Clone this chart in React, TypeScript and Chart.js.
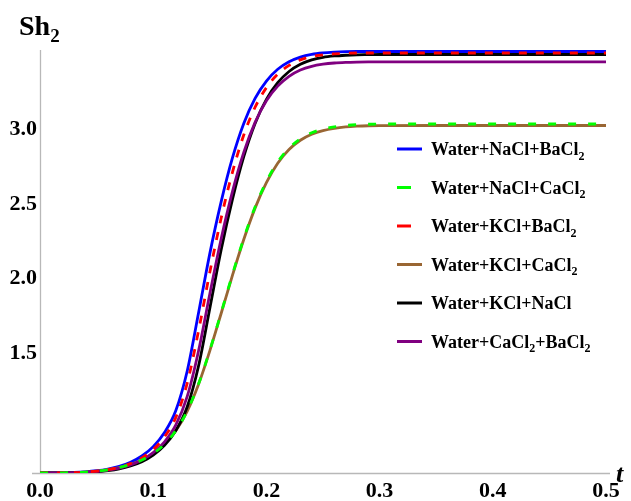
import React, { useEffect, useRef } from 'react';
import { Chart, registerables } from 'chart.js';

Chart.register(...registerables);

const tValues = [0, 0.01, 0.02, 0.03, 0.04, 0.05, 0.06, 0.07, 0.08, 0.09, 0.10, 0.11, 0.12, 0.13, 0.14, 0.15, 0.16, 0.17, 0.18, 0.19, 0.20, 0.21, 0.22, 0.23, 0.24, 0.25, 0.26, 0.27, 0.28, 0.29, 0.30, 0.35, 0.40, 0.45, 0.50];

const seriesLabels = [
  'Water+NaCl+BaCl₂',
  'Water+NaCl+CaCl₂',
  'Water+KCl+BaCl₂',
  'Water+KCl+CaCl₂',
  'Water+KCl+NaCl',
  'Water+CaCl₂+BaCl₂',
];

const naclBacl2 = [0.70, 0.7003, 0.7014, 0.7035, 0.7077, 0.715, 0.7266, 0.7444, 0.7717, 0.8137, 0.8766, 0.9711, 1.118, 1.3805, 1.7688, 2.1677, 2.514, 2.8079, 3.0388, 3.2067, 3.3222, 3.401, 3.4514, 3.4828, 3.5007, 3.5101, 3.5153, 3.5185, 3.52, 3.52, 3.52, 3.52, 3.52, 3.52, 3.52];
const naclCacl2 = [0.70, 0.7002, 0.701, 0.7027, 0.7062, 0.7122, 0.7217, 0.7363, 0.7574, 0.7876, 0.8308, 0.8930, 0.9834, 1.1140, 1.2947, 1.5207, 1.7718, 2.0279, 2.2689, 2.4798, 2.6505, 2.7811, 2.8735, 2.9358, 2.9760, 3.0011, 3.0162, 3.0252, 3.0302, 3.0332, 3.0347, 3.035, 3.035, 3.035, 3.035];
const kclBacl2 = [0.70, 0.7002, 0.701, 0.7027, 0.706, 0.713, 0.723, 0.739, 0.7635, 0.801, 0.857, 0.942, 1.072, 1.300, 1.649, 2.043, 2.404, 2.712, 2.961, 3.147, 3.278, 3.368, 3.427, 3.464, 3.486, 3.498, 3.504, 3.508, 3.51, 3.51, 3.51, 3.51, 3.51, 3.51, 3.51];
const kclCacl2 = [0.70, 0.7002, 0.701, 0.7027, 0.7062, 0.7122, 0.7217, 0.7362, 0.7572, 0.7872, 0.8302, 0.8922, 0.9822, 1.1122, 1.2922, 1.5172, 1.7672, 2.0222, 2.2622, 2.4722, 2.6422, 2.7722, 2.8642, 2.9262, 2.9662, 2.9912, 3.0062, 3.0152, 3.0202, 3.0232, 3.0247, 3.025, 3.025, 3.025, 3.025];
const kclNacl = [0.70, 0.7001, 0.7005, 0.7017, 0.704, 0.708, 0.716, 0.728, 0.747, 0.775, 0.819, 0.885, 0.984, 1.141, 1.414, 1.801, 2.192, 2.530, 2.816, 3.039, 3.200, 3.311, 3.386, 3.434, 3.464, 3.481, 3.490, 3.495, 3.498, 3.499, 3.50, 3.50, 3.50, 3.50, 3.50];
const cacl2Bacl2 = [0.70, 0.7001, 0.7008, 0.7022, 0.705, 0.710, 0.719, 0.733, 0.754, 0.787, 0.836, 0.909, 1.022, 1.211, 1.515, 1.898, 2.266, 2.583, 2.845, 3.046, 3.190, 3.288, 3.354, 3.396, 3.421, 3.435, 3.443, 3.447, 3.449, 3.45, 3.45, 3.45, 3.45, 3.45, 3.45];

const seriesValues = [naclBacl2, naclCacl2, kclBacl2, kclCacl2, kclNacl, cacl2Bacl2];
const seriesColors = ['#0000ff', '#00ff00', '#ff0000', '#996633', '#000000', '#800080'];
const seriesDashes: number[][] = [[], [8, 12], [8, 9], [], [], []];
const seriesOrder = [5, 0, 1, 4, 3, 2];

const xTicks = [0.0, 0.1, 0.2, 0.3, 0.4, 0.5];
const yTicks = [1.5, 2.0, 2.5, 3.0];

const FONT = '"Liberation Serif", "Times New Roman", serif';

function drawRich(ctx: CanvasRenderingContext2D, text: string, x: number, y: number, size: number, style: string) {
  let cx = x;
  let buf = '';
  const flush = () => {
    if (!buf) return;
    ctx.font = `${style} ${size}px ${FONT}`;
    ctx.fillText(buf, cx, y);
    cx += ctx.measureText(buf).width;
    buf = '';
  };
  for (const ch of text) {
    if (ch === '₂') {
      flush();
      const s = Math.round(size * 0.68);
      ctx.font = `${style} ${s}px ${FONT}`;
      ctx.fillText('2', cx, y + size * 0.25);
      cx += ctx.measureText('2').width;
    } else {
      buf += ch;
    }
  }
  flush();
}

const decorPlugin = {
  id: 'decor',
  beforeDatasetsDraw(chart: any) {
    const { ctx, chartArea } = chart;
    ctx.save();
    ctx.strokeStyle = '#b8b8b8';
    ctx.lineWidth = 1.3;
    ctx.beginPath();
    ctx.moveTo(chartArea.left + 0.5, chartArea.top);
    ctx.lineTo(chartArea.left + 0.5, chartArea.bottom);
    ctx.moveTo(chartArea.left - 8, chartArea.bottom + 0.5);
    ctx.lineTo(chartArea.right + 4, chartArea.bottom + 0.5);
    ctx.stroke();
    ctx.restore();
  },
  afterDraw(chart: any) {
    const { ctx } = chart;
    ctx.save();
    ctx.fillStyle = '#000';
    ctx.textBaseline = 'alphabetic';
    ctx.textAlign = 'left';
    drawRich(ctx, 'Sh₂', 19, 35, 28, 'bold');
    drawRich(ctx, 't', 616, 482, 26, 'italic bold');
    chart.data.datasets.forEach((ds: any, i: number) => {
      const yc = 149 + i * 38.5;
      ctx.strokeStyle = ds.borderColor;
      ctx.lineWidth = 3;
      ctx.setLineDash([]);
      ctx.beginPath();
      const dashed = ds.borderDash && ds.borderDash.length > 0;
      ctx.moveTo(397, yc);
      ctx.lineTo(dashed ? 411 : 422, yc);
      ctx.stroke();
      ctx.fillStyle = '#000';
      drawRich(ctx, ds.label, 431, yc + 6, 18, 'bold');
    });
    ctx.restore();
  },
};

export default function App() {
  const ref = useRef<HTMLCanvasElement>(null);
  useEffect(() => {
    if (!ref.current) return;
    const datasets = seriesLabels.map((label, i) => ({
      label,
      data: tValues.map((t, j) => ({ x: t, y: seriesValues[i][j] })),
      borderColor: seriesColors[i],
      backgroundColor: seriesColors[i],
      borderWidth: 2.8,
      borderDash: seriesDashes[i],
      pointRadius: 0,
      cubicInterpolationMode: 'monotone' as const,
      fill: false,
      order: seriesOrder[i],
    }));
    const chart = new Chart(ref.current, {
      type: 'line',
      data: { datasets },
      options: {
        animation: false,
        responsive: false,
        layout: { padding: { top: 50, right: 25, left: 0, bottom: 0 } },
        plugins: { legend: { display: false }, tooltip: { enabled: false } },
        scales: {
          x: {
            type: 'linear',
            min: 0,
            max: 0.5,
            afterBuildTicks: (s: any) => { s.ticks = xTicks.map((v) => ({ value: v })); },
            afterFit: (s: any) => { s.height = 28; },
            grid: { display: false, drawTicks: false },
            border: { display: false },
            ticks: {
              callback: (v: any) => Number(v).toFixed(1),
              font: { family: FONT, size: 22, weight: 'bold' },
              color: '#000',
              padding: 5,
              maxRotation: 0,
              autoSkip: false,
            },
          },
          y: {
            type: 'linear',
            min: 0.7,
            max: 3.53,
            afterBuildTicks: (s: any) => { s.ticks = yTicks.map((v) => ({ value: v })); },
            afterFit: (s: any) => { s.width = 40; },
            grid: { display: false, drawTicks: false },
            border: { display: false },
            ticks: {
              callback: (v: any) => Number(v).toFixed(1),
              font: { family: FONT, size: 22, weight: 'bold' },
              color: '#000',
              padding: 3,
              autoSkip: false,
            },
          },
        },
      },
      plugins: [decorPlugin],
    });
    return () => chart.destroy();
  }, []);
  return (
    <div style={{ position: 'fixed', left: 0, top: 0, width: 631, height: 501, background: '#fff' }}>
      <canvas ref={ref} width={631} height={501} />
    </div>
  );
}
